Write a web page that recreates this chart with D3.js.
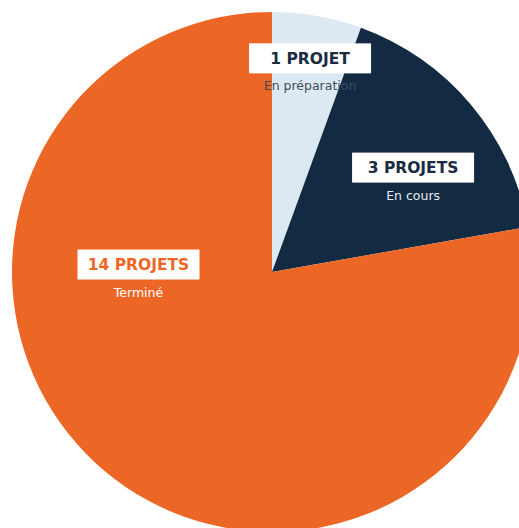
<!DOCTYPE html>
<html lang="fr">
<head>
<meta charset="UTF-8">
<script src="https://d3js.org/d3.v7.min.js"></script>
<style>
  body { margin: 0; background: #fff; }
  svg { display: block; }
  .count { font-family: "DejaVu Sans", sans-serif; font-weight: 700; font-size: 15.5px; }
  .status { font-family: "DejaVu Sans", sans-serif; font-size: 12.5px; }
</style>
</head>
<body>
<svg width="519" height="528"></svg>
<script>
// data
const statuses = ["En préparation", "En cours", "Terminé"];
const counts = [1, 3, 14];
const countLabels = ["1 PROJET", "3 PROJETS", "14 PROJETS"];

// style
const sliceColors = ["#dde9f2", "#132a43", "#ec6726"];
const countColors = ["#1b2c42", "#1b2c42", "#ec6726"];
const statusColors = ["#3d4d60", "#e6ecf2", "#ffffff"];
// label anchor: [angle in degrees from top, distance from centre]
const labelPolar = [[10.1, 217], [53.5, 175.5], [273.2, 133.7]];

const width = 519, height = 528;
const cx = 272, cy = 272, radius = 260;

const svg = d3.select("svg");
const g = svg.append("g").attr("transform", `translate(${cx},${cy})`);

const pie = d3.pie().sort(null).value(d => d.value);
const arc = d3.arc().innerRadius(0).outerRadius(radius);

const table = statuses.map((s, i) => ({ status: s, value: counts[i], label: countLabels[i], i }));

g.selectAll("path")
  .data(pie(table))
  .join("path")
  .attr("d", arc)
  .attr("fill", d => sliceColors[d.data.i]);

const labels = g.selectAll("g.lbl")
  .data(table)
  .join("g")
  .attr("class", "lbl")
  .attr("transform", d => {
    const a = labelPolar[d.i][0] * Math.PI / 180, r = labelPolar[d.i][1];
    return `translate(${r * Math.sin(a)},${-r * Math.cos(a)})`;
  });

labels.append("rect")
  .attr("x", -61).attr("y", -15)
  .attr("width", 122).attr("height", 30)
  .attr("fill", "#fff");

labels.append("text")
  .attr("class", "count")
  .attr("text-anchor", "middle")
  .attr("dy", "0.36em")
  .attr("fill", d => countColors[d.i])
  .text(d => d.label);

labels.append("text")
  .attr("class", "status")
  .attr("text-anchor", "middle")
  .attr("y", 32)
  .attr("fill", d => statusColors[d.i])
  .text(d => d.status);
</script>
</body>
</html>
